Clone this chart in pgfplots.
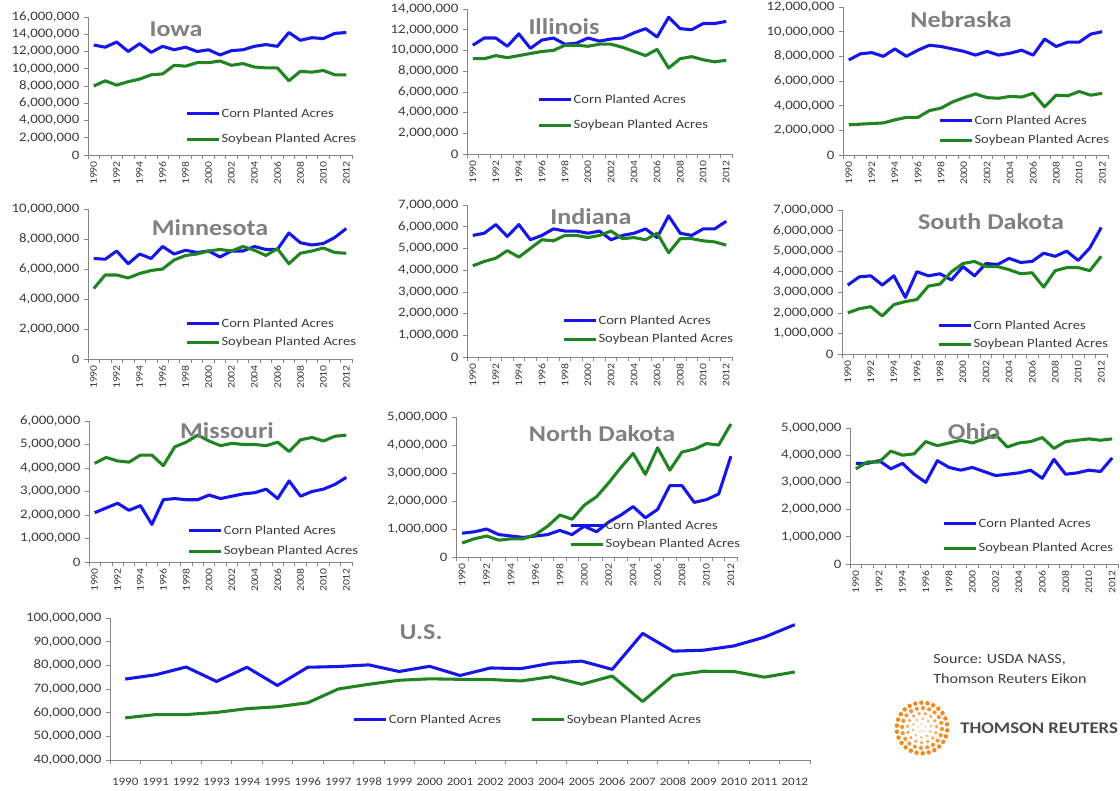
\documentclass[border=0pt]{standalone}
\usepackage{fontspec}
\setmainfont{Carlito}[FakeStretch=1.15]
\usepackage{pgfplots}
\usepackage{pgfplotstable}
\pgfplotsset{compat=1.18}

\definecolor{cornblue}{RGB}{22,22,232}
\definecolor{soygreen}{RGB}{32,132,32}
\definecolor{axisgray}{RGB}{134,134,134}
\definecolor{labelgray}{RGB}{60,60,60}
\definecolor{titlegray}{RGB}{128,128,128}
\definecolor{logoorange}{RGB}{236,140,30}

\newcommand{\fs}[1]{\fontsize{#1}{#1}\selectfont}

% planted acres, millions
\pgfplotstableread[row sep=\\]{
year corn soy \\
1990 12.75 8.0 \\ 1991 12.5 8.6 \\ 1992 13.1 8.1 \\ 1993 12.0 8.5 \\ 1994 12.9 8.8 \\
1995 11.9 9.3 \\ 1996 12.6 9.4 \\ 1997 12.2 10.4 \\ 1998 12.5 10.3 \\ 1999 12.0 10.7 \\
2000 12.2 10.7 \\ 2001 11.6 10.9 \\ 2002 12.1 10.4 \\ 2003 12.2 10.6 \\ 2004 12.6 10.2 \\
2005 12.8 10.1 \\ 2006 12.6 10.1 \\ 2007 14.2 8.6 \\ 2008 13.3 9.7 \\ 2009 13.6 9.6 \\
2010 13.5 9.8 \\ 2011 14.1 9.3 \\ 2012 14.2 9.3 \\
}\iowa
\pgfplotstableread[row sep=\\]{
year corn soy \\
1990 10.5 9.2 \\ 1991 11.2 9.2 \\ 1992 11.2 9.5 \\ 1993 10.4 9.3 \\ 1994 11.6 9.5 \\
1995 10.2 9.7 \\ 1996 11.0 9.9 \\ 1997 11.2 10.0 \\ 1998 10.6 10.5 \\ 1999 10.7 10.5 \\
2000 11.2 10.4 \\ 2001 10.9 10.6 \\ 2002 11.1 10.6 \\ 2003 11.2 10.3 \\ 2004 11.7 9.9 \\
2005 12.1 9.5 \\ 2006 11.3 10.1 \\ 2007 13.2 8.3 \\ 2008 12.1 9.2 \\ 2009 12.0 9.4 \\
2010 12.6 9.1 \\ 2011 12.6 8.9 \\ 2012 12.8 9.05 \\
}\illinois
\pgfplotstableread[row sep=\\]{
year corn soy \\
1990 7.7 2.45 \\ 1991 8.2 2.5 \\ 1992 8.3 2.55 \\ 1993 8.0 2.6 \\ 1994 8.6 2.85 \\
1995 8.0 3.05 \\ 1996 8.5 3.05 \\ 1997 8.9 3.6 \\ 1998 8.8 3.8 \\ 1999 8.6 4.3 \\
2000 8.4 4.65 \\ 2001 8.1 4.95 \\ 2002 8.4 4.65 \\ 2003 8.1 4.6 \\ 2004 8.25 4.75 \\
2005 8.5 4.7 \\ 2006 8.1 5.0 \\ 2007 9.4 3.9 \\ 2008 8.8 4.85 \\ 2009 9.15 4.8 \\
2010 9.15 5.15 \\ 2011 9.8 4.85 \\ 2012 10.0 5.0 \\
}\nebraska
\pgfplotstableread[row sep=\\]{
year corn soy \\
1990 6.7 4.7 \\ 1991 6.65 5.6 \\ 1992 7.2 5.6 \\ 1993 6.35 5.4 \\ 1994 7.0 5.7 \\
1995 6.7 5.9 \\ 1996 7.5 6.0 \\ 1997 7.0 6.6 \\ 1998 7.25 6.9 \\ 1999 7.1 7.0 \\
2000 7.2 7.2 \\ 2001 6.8 7.3 \\ 2002 7.2 7.2 \\ 2003 7.2 7.5 \\ 2004 7.5 7.25 \\
2005 7.3 6.9 \\ 2006 7.3 7.35 \\ 2007 8.4 6.35 \\ 2008 7.75 7.05 \\ 2009 7.6 7.2 \\
2010 7.7 7.4 \\ 2011 8.1 7.1 \\ 2012 8.7 7.05 \\
}\minnesota
\pgfplotstableread[row sep=\\]{
year corn soy \\
1990 5.6 4.2 \\ 1991 5.7 4.4 \\ 1992 6.1 4.55 \\ 1993 5.55 4.9 \\ 1994 6.1 4.6 \\
1995 5.4 5.0 \\ 1996 5.6 5.4 \\ 1997 5.9 5.35 \\ 1998 5.8 5.6 \\ 1999 5.8 5.6 \\
2000 5.7 5.5 \\ 2001 5.8 5.6 \\ 2002 5.4 5.8 \\ 2003 5.6 5.45 \\ 2004 5.7 5.5 \\
2005 5.9 5.4 \\ 2006 5.5 5.7 \\ 2007 6.5 4.8 \\ 2008 5.7 5.45 \\ 2009 5.6 5.45 \\
2010 5.9 5.35 \\ 2011 5.9 5.3 \\ 2012 6.25 5.15 \\
}\indiana
\pgfplotstableread[row sep=\\]{
year corn soy \\
1990 3.35 2.0 \\ 1991 3.75 2.2 \\ 1992 3.8 2.3 \\ 1993 3.35 1.85 \\ 1994 3.8 2.4 \\
1995 2.75 2.55 \\ 1996 4.0 2.65 \\ 1997 3.8 3.3 \\ 1998 3.9 3.4 \\ 1999 3.6 4.0 \\
2000 4.25 4.4 \\ 2001 3.8 4.5 \\ 2002 4.4 4.25 \\ 2003 4.35 4.25 \\ 2004 4.65 4.1 \\
2005 4.45 3.9 \\ 2006 4.5 3.95 \\ 2007 4.9 3.25 \\ 2008 4.75 4.05 \\ 2009 5.0 4.2 \\
2010 4.55 4.2 \\ 2011 5.15 4.05 \\ 2012 6.15 4.75 \\
}\southdakota
\pgfplotstableread[row sep=\\]{
year corn soy \\
1990 2.1 4.2 \\ 1991 2.3 4.45 \\ 1992 2.5 4.3 \\ 1993 2.2 4.25 \\ 1994 2.4 4.55 \\
1995 1.6 4.55 \\ 1996 2.65 4.1 \\ 1997 2.7 4.9 \\ 1998 2.65 5.1 \\ 1999 2.65 5.4 \\
2000 2.85 5.15 \\ 2001 2.7 4.95 \\ 2002 2.8 5.05 \\ 2003 2.9 5.0 \\ 2004 2.95 5.0 \\
2005 3.1 4.95 \\ 2006 2.7 5.1 \\ 2007 3.45 4.7 \\ 2008 2.8 5.2 \\ 2009 3.0 5.3 \\
2010 3.1 5.15 \\ 2011 3.3 5.35 \\ 2012 3.6 5.4 \\
}\missouri
\pgfplotstableread[row sep=\\]{
year corn soy \\
1990 0.85 0.5 \\ 1991 0.9 0.65 \\ 1992 1.0 0.75 \\ 1993 0.8 0.6 \\ 1994 0.75 0.65 \\
1995 0.7 0.65 \\ 1996 0.75 0.8 \\ 1997 0.8 1.1 \\ 1998 0.95 1.5 \\ 1999 0.8 1.35 \\
2000 1.1 1.85 \\ 2001 0.9 2.15 \\ 2002 1.25 2.65 \\ 2003 1.5 3.2 \\ 2004 1.8 3.7 \\
2005 1.4 2.95 \\ 2006 1.7 3.9 \\ 2007 2.55 3.1 \\ 2008 2.55 3.75 \\ 2009 1.95 3.85 \\
2010 2.05 4.05 \\ 2011 2.25 4.0 \\ 2012 3.6 4.75 \\
}\northdakota
\pgfplotstableread[row sep=\\]{
year corn soy \\
1990 3.7 3.5 \\ 1991 3.7 3.75 \\ 1992 3.8 3.75 \\ 1993 3.5 4.15 \\ 1994 3.7 4.0 \\
1995 3.3 4.05 \\ 1996 3.0 4.5 \\ 1997 3.8 4.35 \\ 1998 3.55 4.45 \\ 1999 3.45 4.55 \\
2000 3.55 4.45 \\ 2001 3.4 4.6 \\ 2002 3.25 4.75 \\ 2003 3.3 4.3 \\ 2004 3.35 4.45 \\
2005 3.45 4.5 \\ 2006 3.15 4.65 \\ 2007 3.85 4.25 \\ 2008 3.3 4.5 \\ 2009 3.35 4.55 \\
2010 3.45 4.6 \\ 2011 3.4 4.55 \\ 2012 3.9 4.6 \\
}\ohio
\pgfplotstableread[row sep=\\]{
year corn soy \\
1990 74.2 57.8 \\ 1991 76.0 59.2 \\ 1992 79.3 59.2 \\ 1993 73.2 60.1 \\ 1994 79.2 61.7 \\
1995 71.5 62.5 \\ 1996 79.2 64.2 \\ 1997 79.5 70.0 \\ 1998 80.2 72.0 \\ 1999 77.4 73.7 \\
2000 79.6 74.3 \\ 2001 75.7 74.1 \\ 2002 78.9 74.0 \\ 2003 78.6 73.4 \\ 2004 80.9 75.2 \\
2005 81.8 72.0 \\ 2006 78.3 75.5 \\ 2007 93.5 64.7 \\ 2008 86.0 75.7 \\ 2009 86.4 77.5 \\
2010 88.2 77.4 \\ 2011 91.9 75.0 \\ 2012 97.2 77.2 \\
}\us

\pgfplotsset{
  panel/.style={
    scale only axis, anchor=south west,
    axis x line*=bottom, axis y line*=left,
    axis line style={draw=axisgray, line width=0.6pt},
    xmin=1989.5, xmax=2012.5,
    minor xtick={1989.5,1990.5,...,2012.5},
    major x tick style={draw=none},
    tick style={draw=axisgray, line width=0.5pt},
    tick align=outside, major tick length=3pt, minor tick length=3pt,
    xticklabel={\pgfmathtruncatemacro{\v}{round(\tick)}\v},
    yticklabel={\pgfmathtruncatemacro{\v}{round(\tick)}\ifnum\v=0 0\else\v,000,000\fi},
    y tick label style={font=\fs{9.7}, text=labelgray},
    legend cell align=left,
    legend style={draw=none, fill=none, anchor=west, inner sep=0pt,
      font=\fs{9.5}, text=labelgray, nodes={inner sep=1pt}},
    legend image code/.code={\draw[##1] (0pt,0pt) -- (24pt,0pt);},
  },
  state/.style={panel, ymin=0,
    xtick={1990,1992,...,2012},
    x tick label style={rotate=90, anchor=east, font=\fs{7.6}, text=labelgray, inner sep=1.5pt},
  },
  corn/.style={cornblue, line width=2.3pt, line join=round},
  soy/.style={soygreen, line width=2.3pt, line join=round},
}

\begin{document}
\begin{tikzpicture}
\useasboundingbox (0,0) rectangle (840pt,592.5pt);

% Iowa
\begin{axis}[state, at={(66pt,476.25pt)}, width=198pt, height=103.5pt,
  ymax=16, ytick={0,2,...,16},
  legend style={at={(0.367,0.207)}, row sep=9pt}]
\addplot[corn] table[x=year,y=corn]{\iowa};
\addplot[soy] table[x=year,y=soy]{\iowa};
\legend{Corn Planted Acres, Soybean Planted Acres}
\end{axis}

% Illinois
\begin{axis}[state, at={(350.25pt,477pt)}, width=198.75pt, height=108.75pt,
  ymax=14, ytick={0,2,...,14},
  legend style={at={(0.264,0.286)}, row sep=9pt}]
\addplot[corn] table[x=year,y=corn]{\illinois};
\addplot[soy] table[x=year,y=soy]{\illinois};
\legend{Corn Planted Acres, Soybean Planted Acres}
\end{axis}

% Nebraska
\begin{axis}[state, at={(632.25pt,476.25pt)}, width=198.75pt, height=111pt,
  ymax=12, ytick={0,2,...,12},
  legend style={at={(0.358,0.166)}, row sep=4.5pt}]
\addplot[corn] table[x=year,y=corn]{\nebraska};
\addplot[soy] table[x=year,y=soy]{\nebraska};
\legend{Corn Planted Acres, Soybean Planted Acres}
\end{axis}

% Minnesota
\begin{axis}[state, at={(66pt,323.25pt)}, width=198pt, height=112.5pt,
  ymax=10, ytick={0,2,...,10},
  legend style={at={(0.367,0.173)}, row sep=3.7pt}]
\addplot[corn] table[x=year,y=corn]{\minnesota};
\addplot[soy] table[x=year,y=soy]{\minnesota};
\legend{Corn Planted Acres, Soybean Planted Acres}
\end{axis}

% Indiana
\begin{axis}[state, at={(350.25pt,324.75pt)}, width=198.75pt, height=114pt,
  ymax=7, ytick={0,1,...,7},
  legend style={at={(0.358,0.178)}, row sep=3.7pt}]
\addplot[corn] table[x=year,y=corn]{\indiana};
\addplot[soy] table[x=year,y=soy]{\indiana};
\legend{Corn Planted Acres, Soybean Planted Acres}
\end{axis}

% South Dakota
\begin{axis}[state, at={(631.5pt,327pt)}, width=198.75pt, height=108pt,
  ymax=7, ytick={0,1,...,7},
  legend style={at={(0.358,0.132)}, row sep=3.7pt}]
\addplot[corn] table[x=year,y=corn]{\southdakota};
\addplot[soy] table[x=year,y=soy]{\southdakota};
\legend{Corn Planted Acres, Soybean Planted Acres}
\end{axis}

% Missouri
\begin{axis}[state, at={(66.75pt,171pt)}, width=197.25pt, height=105.75pt,
  ymax=6, ytick={0,1,...,6},
  legend style={at={(0.373,0.149)}, row sep=5.2pt}]
\addplot[corn] table[x=year,y=corn]{\missouri};
\addplot[soy] table[x=year,y=soy]{\missouri};
\legend{Corn Planted Acres, Soybean Planted Acres}
\end{axis}

% North Dakota
\begin{axis}[state, at={(342pt,174.75pt)}, width=210.75pt, height=105pt,
  ymax=5, ytick={0,1,...,5},
  legend style={at={(0.402,0.157)}, row sep=3.7pt}]
\addplot[corn] table[x=year,y=corn]{\northdakota};
\addplot[soy] table[x=year,y=soy]{\northdakota};
\legend{Corn Planted Acres, Soybean Planted Acres}
\end{axis}

% Ohio
\begin{axis}[state, at={(637.5pt,169.5pt)}, width=201pt, height=102pt,
  ymax=5, ytick={0,1,...,5},
  legend style={at={(0.343,0.206)}, row sep=8.2pt}]
\addplot[corn] table[x=year,y=corn]{\ohio};
\addplot[soy] table[x=year,y=soy]{\ohio};
\legend{Corn Planted Acres, Soybean Planted Acres}
\end{axis}

% U.S.
\begin{axis}[panel, at={(82.5pt,22.5pt)}, width=525pt, height=106.5pt,
  ymin=40, ymax=100, ytick={40,50,...,100},
  xtick={1990,1991,...,2012},
  x tick label style={font=\fs{8.5}, text=labelgray, yshift=-7pt},
  legend columns=2,
  legend style={at={(0.346,0.282)},
    /tikz/every even column/.append style={column sep=21pt}}]
\addplot[corn] table[x=year,y=corn]{\us};
\addplot[soy] table[x=year,y=soy]{\us};
\legend{Corn Planted Acres, Soybean Planted Acres}
\end{axis}

% panel titles
\begin{scope}[every node/.style={font=\fs{17}\bfseries, text=titlegray}]
\node at (132pt,570.75pt) {Iowa};
\node at (423pt,572.25pt) {Illinois};
\node at (720.75pt,577.5pt) {Nebraska};
\node at (157.5pt,421.5pt) {Minnesota};
\node at (443.25pt,429.75pt) {Indiana};
\node at (743.25pt,426pt) {South Dakota};
\node at (170.25pt,269.25pt) {Missouri};
\node at (451.5pt,267pt) {North Dakota};
\node at (730.5pt,268.5pt) {Ohio};
\node at (315.75pt,118.5pt) {U.S.};
\end{scope}

% source note and logo
\node[anchor=west, font=\fs{10.5}, text=labelgray, inner sep=0pt] at (699.75pt,97.5pt) {Source: USDA NASS,};
\node[anchor=west, font=\fs{10.5}, text=labelgray, inner sep=0pt] at (699.75pt,83.25pt) {Thomson Reuters Eikon};
\foreach \r/\n/\d/\p in {3/5/0.8/45, 7/10/1.1/60, 11/15/1.4/75, 15/20/1.6/90, 19/26/1.7/100} {
  \foreach \k in {1,...,\n}
    \fill[logoorange!\p!white] ({691.5pt+\r*cos(360*\k/\n+7*\r)*1pt},{46.5pt+\r*sin(360*\k/\n+7*\r)*1pt}) circle (\d pt);
}
\node[anchor=west, font=\fs{12.2}\bfseries, text=black!70, inner sep=0pt] at (720pt,46.5pt) {THOMSON REUTERS};
\end{tikzpicture}
\end{document}
